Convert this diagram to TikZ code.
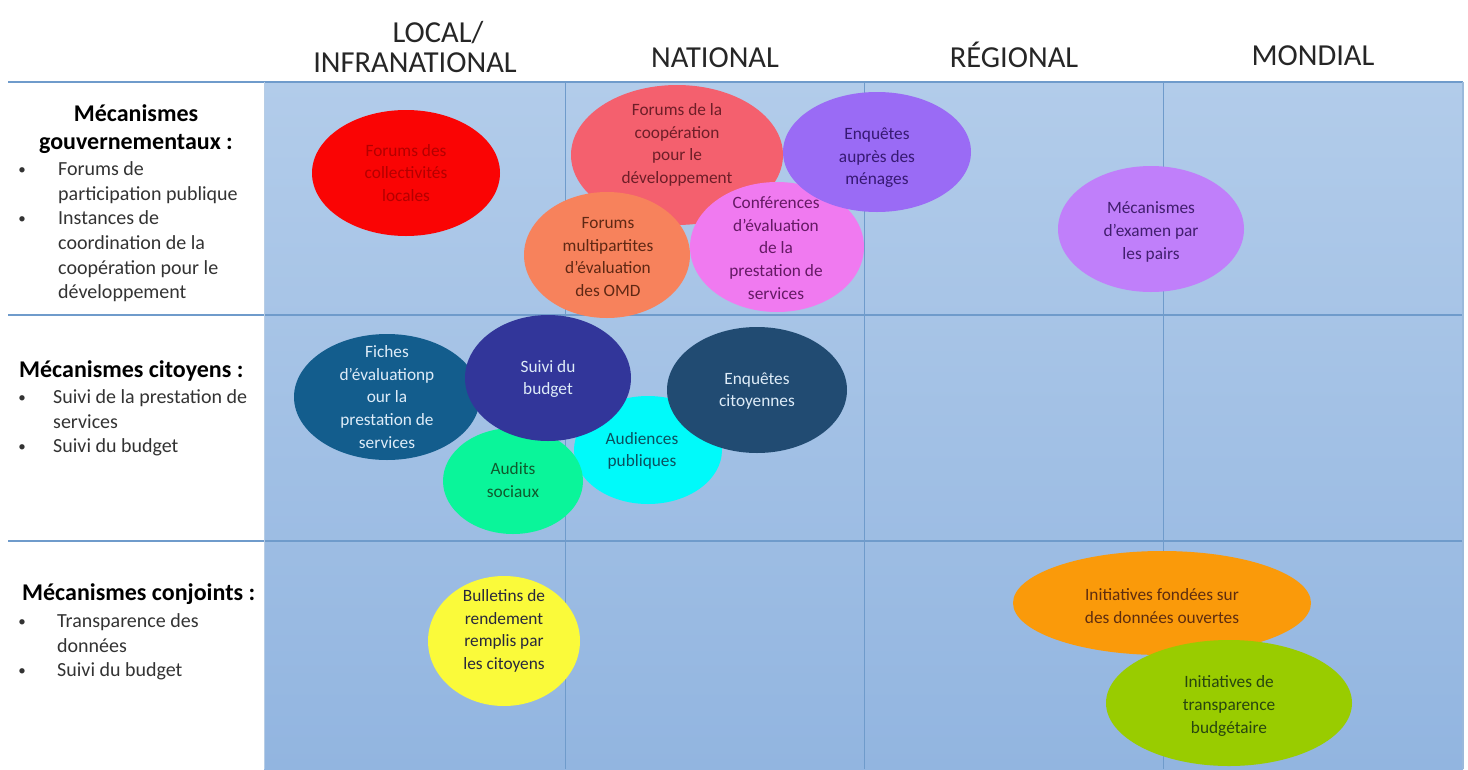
\documentclass[tikz,border=0pt]{standalone}
\usepackage{fontspec}
\setmainfont{Carlito}
\usetikzlibrary{shapes.geometric}
\definecolor{bgtop}{HTML}{B2CCEA}
\definecolor{bgbot}{HTML}{92B5E0}
\definecolor{gridline}{HTML}{6F9BCB}
% bubble fills
\definecolor{cRed}{HTML}{FA0404}
\definecolor{cCoop}{HTML}{F4606E}
\definecolor{cOmd}{HTML}{F7825C}
\definecolor{cConf}{HTML}{F07AF0}
\definecolor{cMen}{HTML}{9A6BF5}
\definecolor{cPairs}{HTML}{C07FFA}
\definecolor{cAud}{HTML}{00FAFA}
\definecolor{cAudits}{HTML}{0AF59A}
\definecolor{cFiches}{HTML}{135D8D}
\definecolor{cBudget}{HTML}{32369A}
\definecolor{cEnq}{HTML}{214B72}
\definecolor{cBull}{HTML}{FAFA3A}
\definecolor{cOuv}{HTML}{FA9A0A}
\definecolor{cTransp}{HTML}{99CC00}
% bubble texts
\definecolor{tRed}{HTML}{B40000}
\definecolor{tCoop}{HTML}{6E1E28}
\definecolor{tOmd}{HTML}{5F2814}
\definecolor{tConf}{HTML}{641964}
\definecolor{tMen}{HTML}{371973}
\definecolor{tPairs}{HTML}{411E6E}
\definecolor{tAud}{HTML}{0A505F}
\definecolor{tAudits}{HTML}{0F5A2D}
\definecolor{tLight}{HTML}{DEECF8}
\definecolor{tBull}{HTML}{28283C}
\definecolor{tOuv}{HTML}{5F2D0F}
\definecolor{tTransp}{HTML}{28460F}
\begin{document}
\begin{tikzpicture}[x=1pt,y=-1pt,
  head/.style={font=\fontsize{30.5}{36}\selectfont, text=black!85, anchor=base, inner sep=0},
  rowhead/.style={font=\fontsize{24}{29}\bfseries\selectfont, text=black, anchor=base, inner sep=0},
  rowitem/.style={font=\fontsize{20}{24.6}\selectfont, text=black!80, anchor=base west, inner sep=0},
  dot/.style={font=\fontsize{15}{16}\selectfont, text=black!80, anchor=base, inner sep=0},
  btext/.style={font=\fontsize{17.3}{22.6}\selectfont, align=center, inner sep=0},
]
\useasboundingbox (0,0) rectangle (1468,769);
\fill[white] (0,0) rectangle (1468,769);

% matrix background and grid
\shade[top color=bgtop, bottom color=bgbot] (264,82) rectangle (1463,769);
\draw[gridline, line width=1.2] (8,82) -- (1463,82);
\draw[gridline, line width=1.2] (8,315) -- (1463,315);
\draw[gridline, line width=1.2] (8,541) -- (1463,541);
\foreach \x in {565,864,1163} \draw[gridline, line width=0.9] (\x,82) -- (\x,769);
\draw[gridline!70, line width=1.2] (1463,82) -- (1463,769);
\draw[gridline!50, line width=0.8] (264,82) -- (264,769);

% column headers
\node[head] (hlocal) at (438,42) {LOCAL/};
\node[head] (hinfra) at (415,72) {INFRANATIONAL};
\node[head] (hnat) at (715,67) {NATIONAL};
\node[head] (hreg) at (1014,67) {RÉGIONAL};
\node[head] (hmond) at (1313,65) {MONDIAL};

% row headers
\node[rowhead] (gov1) at (136,121) {Mécanismes};
\node[rowhead] (gov2) at (136,149) {gouvernementaux :};
\node[dot] (gb1) at (22,174) {•};
\node[dot] (gb2) at (22,223) {•};
\node[rowitem] (g1) at (58,175) {Forums de};
\node[rowitem] (g2) at (58,200) {participation publique};
\node[rowitem] (g3) at (58,224) {Instances de};
\node[rowitem] (g4) at (58,249) {coordination de la};
\node[rowitem] (g5) at (58,274) {coopération pour le};
\node[rowitem] (g6) at (58,298) {développement};

\node[rowhead, anchor=base west] (cit) at (19,377) {Mécanismes citoyens :};
\node[dot] (cb1) at (22,402) {•};
\node[dot] (cb2) at (22,451) {•};
\node[rowitem] (c1) at (53,403) {Suivi de la prestation de};
\node[rowitem] (c2) at (53,428) {services};
\node[rowitem] (c3) at (53,452) {Suivi du budget};

\node[rowhead, anchor=base west] (conj) at (22,600) {Mécanismes conjoints :};
\node[dot] (jb1) at (22,626) {•};
\node[dot] (jb2) at (22,675) {•};
\node[rowitem] (j1) at (57,627) {Transparence des};
\node[rowitem] (j2) at (57,652) {données};
\node[rowitem] (j3) at (57,676) {Suivi du budget};

% government mechanisms
\fill[cRed] (406,173) ellipse [x radius=94, y radius=63];
\node[btext, text=tRed] (collect) at (406,173) {Forums des\\collectivités\\locales};

\fill[cCoop] (677,155) ellipse [x radius=106, y radius=70];
\node[btext, text=tCoop] (coop) at (677,145) {Forums de la\\coopération\\pour le\\développement};

\fill[cOmd] (607,255) ellipse [x radius=83, y radius=63];
\node[btext, text=tOmd] (omd) at (608,257) {Forums\\multipartites\\d’évaluation\\des OMD};

\fill[cConf] (777,247) ellipse [x radius=87, y radius=65];
\node[btext, text=tConf] (conf) at (776,248) {Conférences\\d’évaluation\\de la\\prestation de\\services};

\fill[cMen] (877,152) ellipse [x radius=94, y radius=60];
\node[btext, text=tMen] (menages) at (877,158) {Enquêtes\\auprès des\\ménages};

\fill[cPairs] (1151,229) ellipse [x radius=93, y radius=63];
\node[btext, text=tPairs] (pairs) at (1151,232) {Mécanismes\\d’examen par\\les pairs};

% citizen mechanisms
\fill[cAud] (648,450) ellipse [x radius=74, y radius=54];
\node[btext, text=tAud] (audiences) at (642,451) {Audiences\\publiques};

\fill[cAudits] (513,481) ellipse [x radius=70, y radius=53];
\node[btext, text=tAudits] (audits) at (513,480) {Audits\\sociaux};

\fill[cFiches] (387,397) ellipse [x radius=93, y radius=63];
\node[btext, text=tLight] (fiches) at (387,397) {Fiches\\d’évaluationp\\our la\\prestation de\\services};

\fill[cBudget] (548,378) ellipse [x radius=83, y radius=63];
\node[btext, text=tLight] (budget) at (548,379) {Suivi du\\budget};

\fill[cEnq] (757,390) ellipse [x radius=90, y radius=63];
\node[btext, text=tLight] (enqcit) at (757,391) {Enquêtes\\citoyennes};

% joint mechanisms
\fill[cBull] (504,641) ellipse [x radius=76, y radius=65];
\node[btext, text=tBull] (bulletins) at (504,631) {Bulletins de\\rendement\\remplis par\\les citoyens};

\fill[cOuv] (1162,603) ellipse [x radius=149, y radius=52];
\node[btext, text=tOuv] (ouvertes) at (1162,606) {Initiatives fondées sur\\des données ouvertes};

\fill[cTransp] (1229,703) ellipse [x radius=123, y radius=63];
\node[btext, text=tTransp] (transp) at (1229,706) {Initiatives de\\transparence\\budgétaire};
\end{tikzpicture}
\end{document}
